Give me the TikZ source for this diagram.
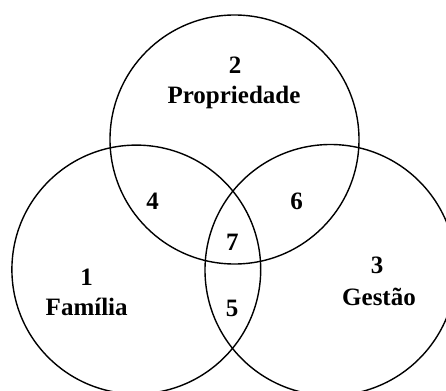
\documentclass[tikz,border=0pt]{standalone}
\usepackage{fontspec}
\setmainfont{Liberation Serif}
\begin{document}
\begin{tikzpicture}[x=1pt,y=-1pt,
  ring/.style={draw=black,line width=1.4pt},
  lbl/.style={font=\fontsize{25}{30}\selectfont\bfseries,anchor=base,inner sep=0pt}]
\useasboundingbox (0,0) rectangle (446,390);
\clip (0,0) rectangle (446,390);
\draw[ring] (234.5,139.5) circle[radius=124.5];
\draw[ring] (136.3,269.5) circle[radius=124.4];
\draw[ring] (330.5,270) circle[radius=125.5];
\node[lbl] (n2) at (235,74) {2};
\node[lbl] (l2) at (234,104) {Propriedade};
\node[lbl] (n1) at (86.7,285) {1};
\node[lbl] (l1) at (86.7,315) {Família};
\node[lbl] (n3) at (377,273) {3};
\node[lbl] (l3) at (379,305) {Gestão};
\node[lbl] (n4) at (152.7,209) {4};
\node[lbl] (n6) at (296.7,209) {6};
\node[lbl] (n7) at (232.3,250) {7};
\node[lbl] (n5) at (232,316.7) {5};
\end{tikzpicture}
\end{document}
